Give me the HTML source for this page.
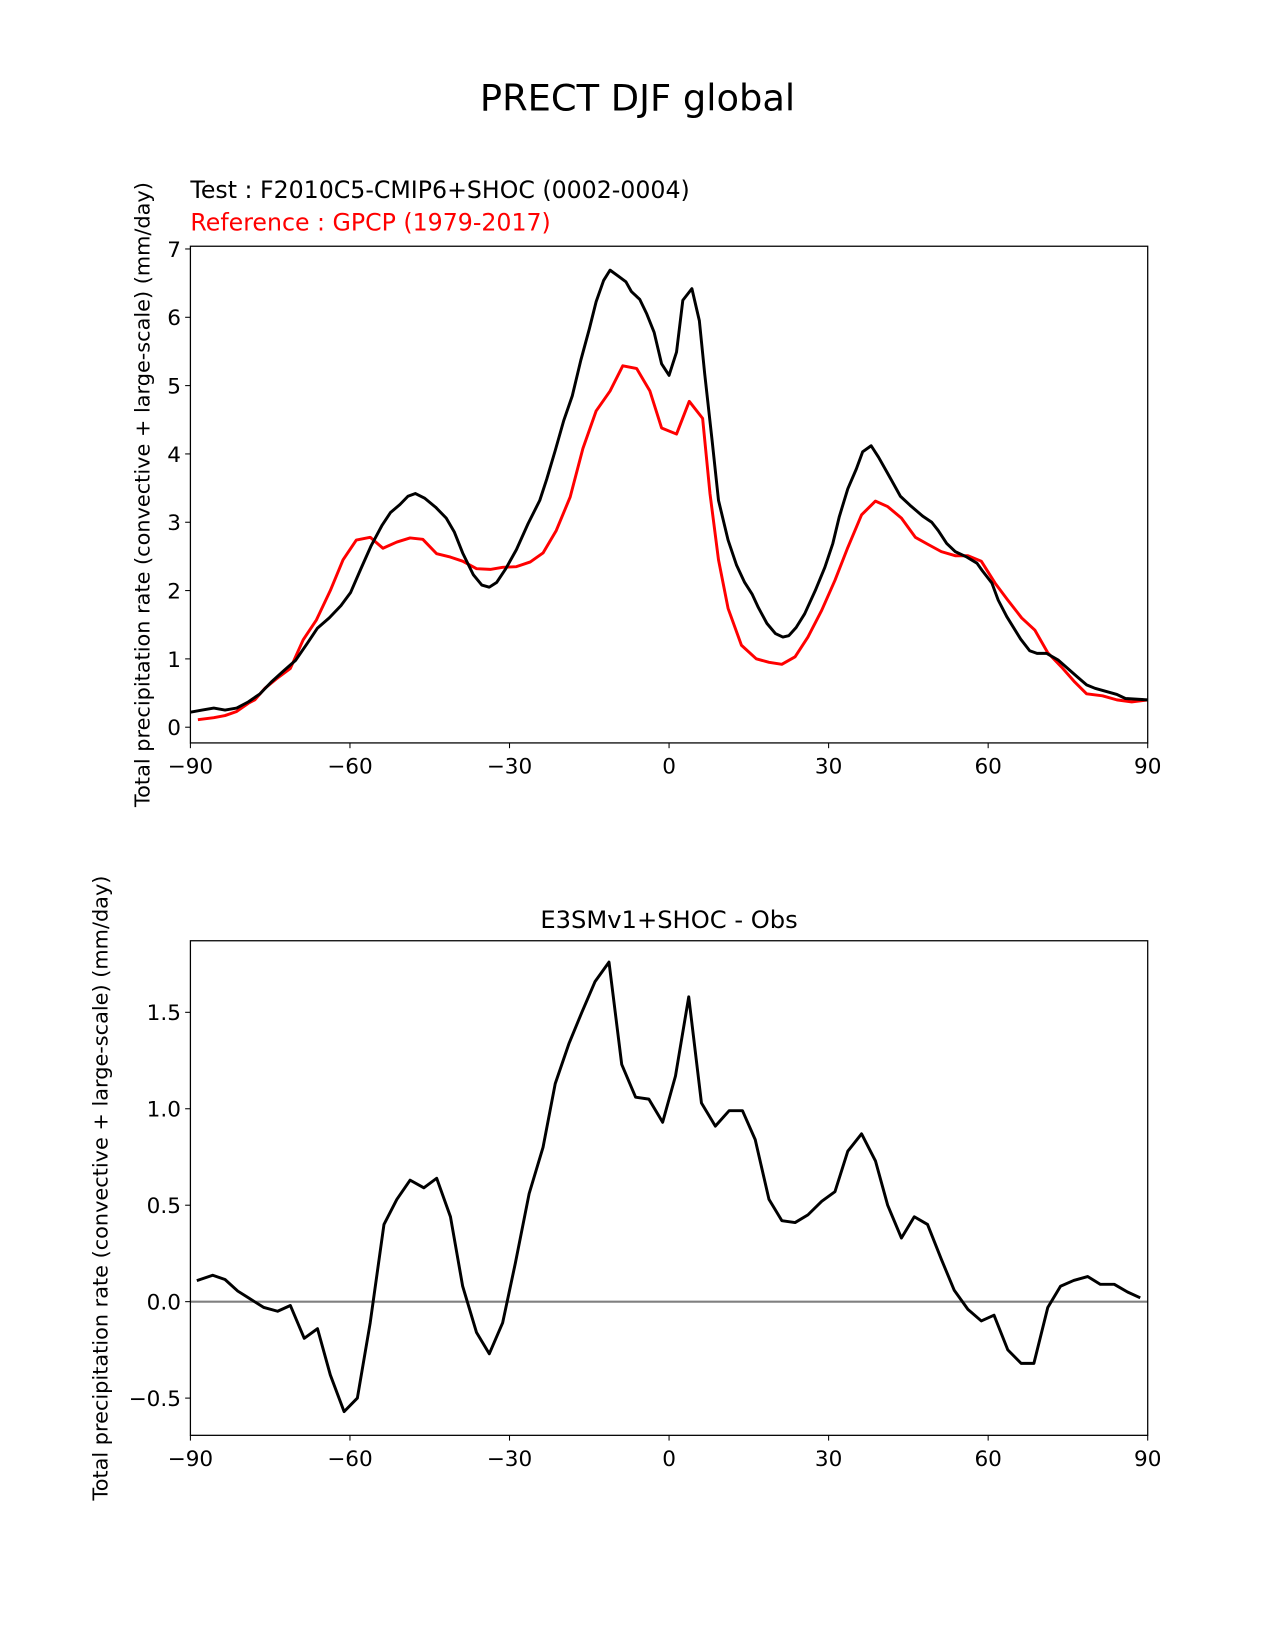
<!DOCTYPE html>
<html><head><meta charset="utf-8"><style>
html,body{margin:0;padding:0;background:#fff}
svg{display:block}
text{font-family:"DejaVu Sans","Liberation Sans",sans-serif}
</style></head><body>
<svg id="fig" width="1275" height="1650" viewBox="0 0 1212 1568" preserveAspectRatio="none" xmlns="http://www.w3.org/2000/svg">
<text x="606" y="105" font-size="35" text-anchor="middle">PRECT DJF global</text>
<text x="181" y="188" font-size="22.5">Test : F2010C5-CMIP6+SHOC (0002-0004)</text>
<text x="181" y="219" font-size="22.5" fill="#ff0000">Reference : GPCP (1979-2017)</text>
<text transform="translate(142,470) rotate(-90)" font-size="19.8" text-anchor="middle">Total precipitation rate (convective + large-scale) (mm/day)</text>
<text transform="translate(102,1129) rotate(-90)" font-size="19.8" text-anchor="middle">Total precipitation rate (convective + large-scale) (mm/day)</text>
<text x="636" y="882" font-size="23" text-anchor="middle">E3SMv1+SHOC - Obs</text>
<g id="top"></g>
<g id="bot"></g>
</svg>
<script>
const xTicks=[-90,-60,-30,0,30,60,90];
const topYTicks=[0,1,2,3,4,5,6,7];
const botYTicks=[-0.5,0.0,0.5,1.0,1.5];
const botYLabels=["\u22120.5","0.0","0.5","1.0","1.5"];
const testLat=[-90,-87.8,-85.6,-83.5,-81.3,-79.1,-76.9,-74.8,-72.4,-70.2,-68,-66.1,-63.9,-61.7,-59.9,-58,-56,-54,-52.4,-50.6,-49.1,-47.7,-45.9,-43.9,-41.9,-40.4,-38.8,-36.8,-35.2,-33.8,-32.4,-30.7,-28.7,-26.5,-24.3,-23,-21.4,-19.8,-18.2,-16.6,-15,-13.7,-12.3,-11.1,-9.5,-8.1,-7.1,-5.5,-4.2,-2.8,-1.4,0,1.4,2.6,4.3,5.7,6.7,8.1,9.3,11.1,12.7,14.2,15.6,16.8,18.4,20,21.4,22.5,23.9,25.5,27.5,29.3,30.8,32,33.6,35.2,36.4,38,39.4,41.5,43.5,45.3,47.7,49.4,50.6,52.2,53.8,56,57.9,58.9,60.7,61.9,63.5,66.1,67.8,69.2,71,73.2,76.7,78.5,80.1,84.2,85.8,90];
const testVal=[0.22,0.25,0.28,0.25,0.28,0.37,0.49,0.66,0.83,0.98,1.23,1.45,1.6,1.78,1.97,2.31,2.66,2.95,3.14,3.26,3.38,3.42,3.35,3.22,3.06,2.86,2.55,2.23,2.08,2.05,2.12,2.32,2.6,2.98,3.32,3.63,4.05,4.49,4.85,5.37,5.83,6.23,6.54,6.69,6.6,6.52,6.38,6.26,6.05,5.78,5.32,5.15,5.49,6.25,6.42,5.95,5.17,4.2,3.32,2.74,2.37,2.12,1.95,1.75,1.52,1.37,1.32,1.34,1.46,1.66,2.0,2.34,2.69,3.08,3.49,3.78,4.03,4.12,3.95,3.66,3.38,3.25,3.09,3.0,2.88,2.69,2.57,2.49,2.4,2.29,2.11,1.86,1.62,1.29,1.12,1.08,1.08,0.98,0.74,0.62,0.57,0.48,0.42,0.40];
const refLat=[-88.6,-85.6,-83.5,-81.3,-79.1,-77.9,-76,-73.8,-71.2,-68.8,-66.3,-63.7,-61.3,-58.8,-56.2,-53.8,-51.2,-48.7,-46.3,-43.7,-41.1,-38.8,-36.2,-33.6,-31.3,-28.7,-26.1,-23.7,-21.2,-18.6,-16.2,-13.7,-11.1,-8.7,-6.1,-3.6,-1.4,1.4,3.8,6.3,7.7,9.3,11.1,13.6,16.4,18.8,21.2,23.7,26.1,28.7,31.2,33.6,36.2,38.8,41.1,43.7,46.3,48.6,51.2,53.8,56.2,58.7,61.3,63.7,66.3,68.8,71.2,73.8,76.3,78.5,81.5,84.2,87,90];
const refVal=[0.11,0.14,0.17,0.23,0.35,0.4,0.57,0.71,0.86,1.28,1.57,2.0,2.45,2.74,2.78,2.62,2.71,2.77,2.75,2.54,2.49,2.43,2.32,2.31,2.34,2.35,2.42,2.55,2.88,3.37,4.08,4.63,4.92,5.29,5.25,4.92,4.38,4.29,4.77,4.52,3.42,2.45,1.74,1.2,1.0,0.95,0.92,1.03,1.32,1.71,2.15,2.63,3.11,3.31,3.23,3.06,2.78,2.68,2.57,2.51,2.51,2.43,2.11,1.86,1.6,1.42,1.09,0.88,0.66,0.49,0.46,0.40,0.37,0.40];
const diffLat=[-88.8,-85.8,-83.5,-81.1,-79.1,-76.2,-73.6,-71.2,-68.6,-66.1,-63.7,-61.1,-58.6,-56.2,-53.6,-51.2,-48.7,-46.1,-43.7,-41.1,-38.8,-36.2,-33.8,-31.3,-28.9,-26.3,-23.7,-21.4,-18.8,-16.4,-13.9,-11.3,-8.9,-6.3,-3.8,-1.2,1.2,3.7,6.1,8.7,11.3,13.8,16.2,18.8,21.2,23.7,26.1,28.7,31.2,33.6,36.2,38.8,41.1,43.7,46.1,48.6,51.2,53.6,56.2,58.7,61.1,63.7,66.2,68.6,71.2,73.6,76.1,78.7,81.1,83.7,86.2,88.6];
const diffVal=[0.109,0.137,0.115,0.055,0.02,-0.03,-0.05,-0.02,-0.19,-0.14,-0.38,-0.57,-0.5,-0.11,0.4,0.53,0.63,0.59,0.64,0.44,0.08,-0.16,-0.27,-0.11,0.2,0.56,0.8,1.13,1.34,1.5,1.66,1.76,1.23,1.06,1.05,0.93,1.17,1.58,1.03,0.91,0.99,0.99,0.84,0.53,0.42,0.41,0.45,0.52,0.57,0.78,0.87,0.73,0.5,0.33,0.44,0.4,0.22,0.06,-0.04,-0.1,-0.07,-0.25,-0.32,-0.32,-0.03,0.08,0.11,0.13,0.09,0.09,0.05,0.02];

const NS="http://www.w3.org/2000/svg";
function mk(tag,attrs,parent){const e=document.createElementNS(NS,tag);for(const k in attrs)e.setAttribute(k,attrs[k]);parent.appendChild(e);return e;}
const X0=181,X1=1091;
const xs=lat=>X0+(lat+90)/180*(X1-X0);
function axes(g,top,bot,ymin,ymax,yt,ylab,name){
  const ys=v=>bot-(v-ymin)/(ymax-ymin)*(bot-top);
  xTicks.forEach(t=>{
    const l=mk('line',{x1:xs(t),x2:xs(t),y1:bot,y2:bot+5,stroke:'#000','stroke-width':1},g);
    
    
    const tx=mk('text',{x:xs(t),y:bot+29,'font-size':20.5,'text-anchor':'middle'},g);
    
    
    tx.textContent=String(t).replace('-','\u2212');
  });
  yt.forEach((t,i)=>{
    const l=mk('line',{x1:X0-5,x2:X0,y1:ys(t),y2:ys(t),stroke:'#000','stroke-width':1},g);
    
    
    const tx=mk('text',{x:X0-9,y:ys(t)+7.5,'font-size':20.5,'text-anchor':'end'},g);
    
    
    tx.textContent=ylab[i];
  });
  return ys;
}
function line(g,lat,val,ys,color,name,w){
  const d=lat.map((a,i)=>(i?'L':'M')+xs(a).toFixed(1)+','+ys(val[i]).toFixed(1)).join('');
  const p=mk('path',{d:d,fill:'none',stroke:color,'stroke-width':w||2.8,'stroke-linejoin':'round'},g);
  
  
}
const gt=document.getElementById('top');
const ysT=axes(gt,234,706,-0.23,7.04,topYTicks,topYTicks.map(String),'top');
line(gt,refLat,refVal,ysT,'#ff0000','reference-line');
line(gt,testLat,testVal,ysT,'#000','test-line');
const ft=mk('rect',{x:X0,y:234,width:X1-X0,height:472,fill:'none',stroke:'#000','stroke-width':1.2},gt);



const gb=document.getElementById('bot');
const ysB=axes(gb,894,1364,-0.693,1.871,botYTicks,botYLabels,'bottom');
const z=mk('line',{x1:X0,x2:X1,y1:ysB(0),y2:ysB(0),stroke:'#808080','stroke-width':2},gb);


line(gb,diffLat,diffVal,ysB,'#000','difference-line');
const fb=mk('rect',{x:X0,y:894,width:X1-X0,height:470,fill:'none',stroke:'#000','stroke-width':1.2},gb);


</script>
</body></html>
